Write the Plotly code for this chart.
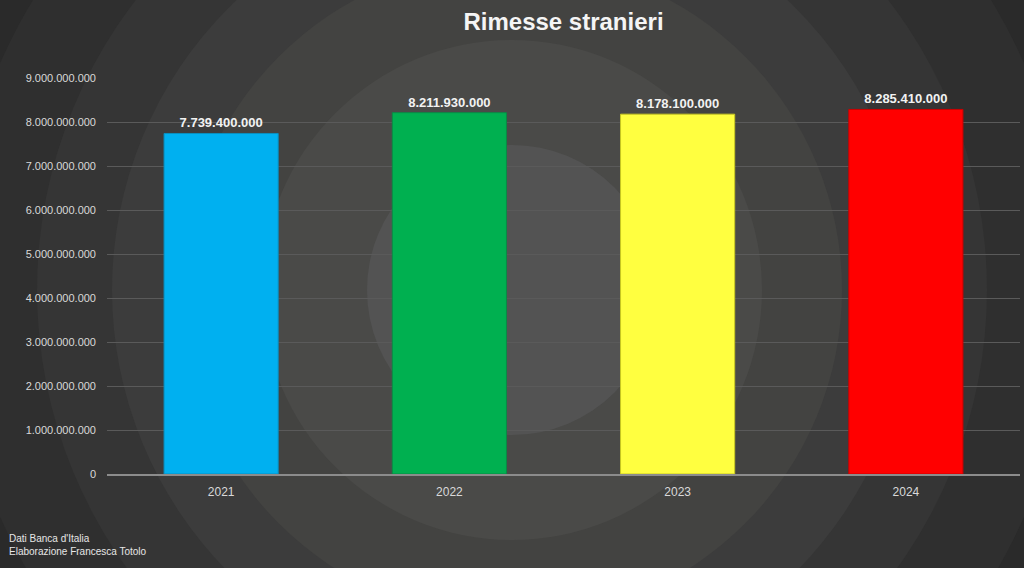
import plotly.graph_objects as go

years = ["2021", "2022", "2023", "2024"]
values = [7739400000, 8211930000, 8178100000, 8285410000]
bar_colors = ["#00B0F0", "#00B050", "#FFFF40", "#FF0000"]
bar_edges = ["#0a8fc0", "#0a8a45", "#c8c820", "#cc0000"]
title_text = "Rimesse stranieri"
footer_lines = ["Dati Banca d'Italia", "Elaborazione Francesca Totolo"]

W, H = 1024, 568
L, R, T, B = 107, 4, 78, 94
pw, ph = W - L - R, H - T - B

def px2paper_x(px):
    return (px - L) / pw

def px2paper_y(py):
    return (H - B - py) / ph

# background radial bands (style only)
cx, cy = 512, 290
ring_radii = [640, 560, 475, 400, 330, 250, 145]
ring_colors = ["#2a2a2a", "#2f2f2f", "#353535", "#3c3c3c", "#434341", "#4a4a48", "#535353"]

shapes = []
for r, c in zip(ring_radii, ring_colors):
    shapes.append(dict(
        type="circle", xref="paper", yref="paper", layer="below",
        x0=px2paper_x(cx - r), x1=px2paper_x(cx + r),
        y0=px2paper_y(cy + r), y1=px2paper_y(cy - r),
        fillcolor=c, line=dict(width=0),
    ))

labels = [f"{v:,}".replace(",", ".") for v in values]

fig = go.Figure(go.Bar(
    x=years, y=values,
    marker=dict(color=bar_colors, line=dict(color=bar_edges, width=1)),
    text=labels, textposition="outside", cliponaxis=False,
    textfont=dict(family="Liberation Sans, Arial, sans-serif", size=13, color="#f2f2f2", weight="bold"),
    constraintext="none",
    hoverinfo="skip",
))

annotations = [
    dict(text="<br>".join(footer_lines), xref="paper", yref="paper",
         x=px2paper_x(7), y=px2paper_y(531), xanchor="left", yanchor="top",
         align="left", showarrow=False,
         font=dict(family="Liberation Sans, Arial, sans-serif", size=10, color="#e6e6e6")),
]

fig.update_layout(
    width=W, height=H,
    margin=dict(l=L, r=R, t=T, b=B),
    paper_bgcolor="#262626",
    plot_bgcolor="rgba(0,0,0,0)",
    separators=",.",
    bargap=0.5,
    showlegend=False,
    shapes=shapes,
    annotations=annotations,
    title=dict(text="<b>" + title_text + "</b>", x=0.5, xref="paper", xanchor="center",
               y=1 - 22 / H, yref="container", yanchor="middle",
               font=dict(family="Liberation Sans Narrow, Arial Narrow, Liberation Sans, Arial", size=24, color="#f5f5f5")),
    xaxis=dict(
        showgrid=False, showline=True, linecolor="#8c8c8c", linewidth=1.5,
        ticks="", ticklabelstandoff=6,
        tickfont=dict(family="Liberation Sans, Arial, sans-serif", size=12, color="#d9d9d9"),
    ),
    yaxis=dict(
        range=[0, 9e9], dtick=1e9, tickformat=",d",
        showgrid=True, gridcolor="#5a5a5a", gridwidth=1,
        zeroline=False, showline=False, ticks="", ticklabelstandoff=10,
        tickfont=dict(family="Liberation Sans, Arial, sans-serif", size=11, color="#d9d9d9"),
    ),
)

fig.write_html("out.html", config={"displayModeBar": False},
               post_script="document.body.style.margin='0';document.body.style.overflow='hidden';")
